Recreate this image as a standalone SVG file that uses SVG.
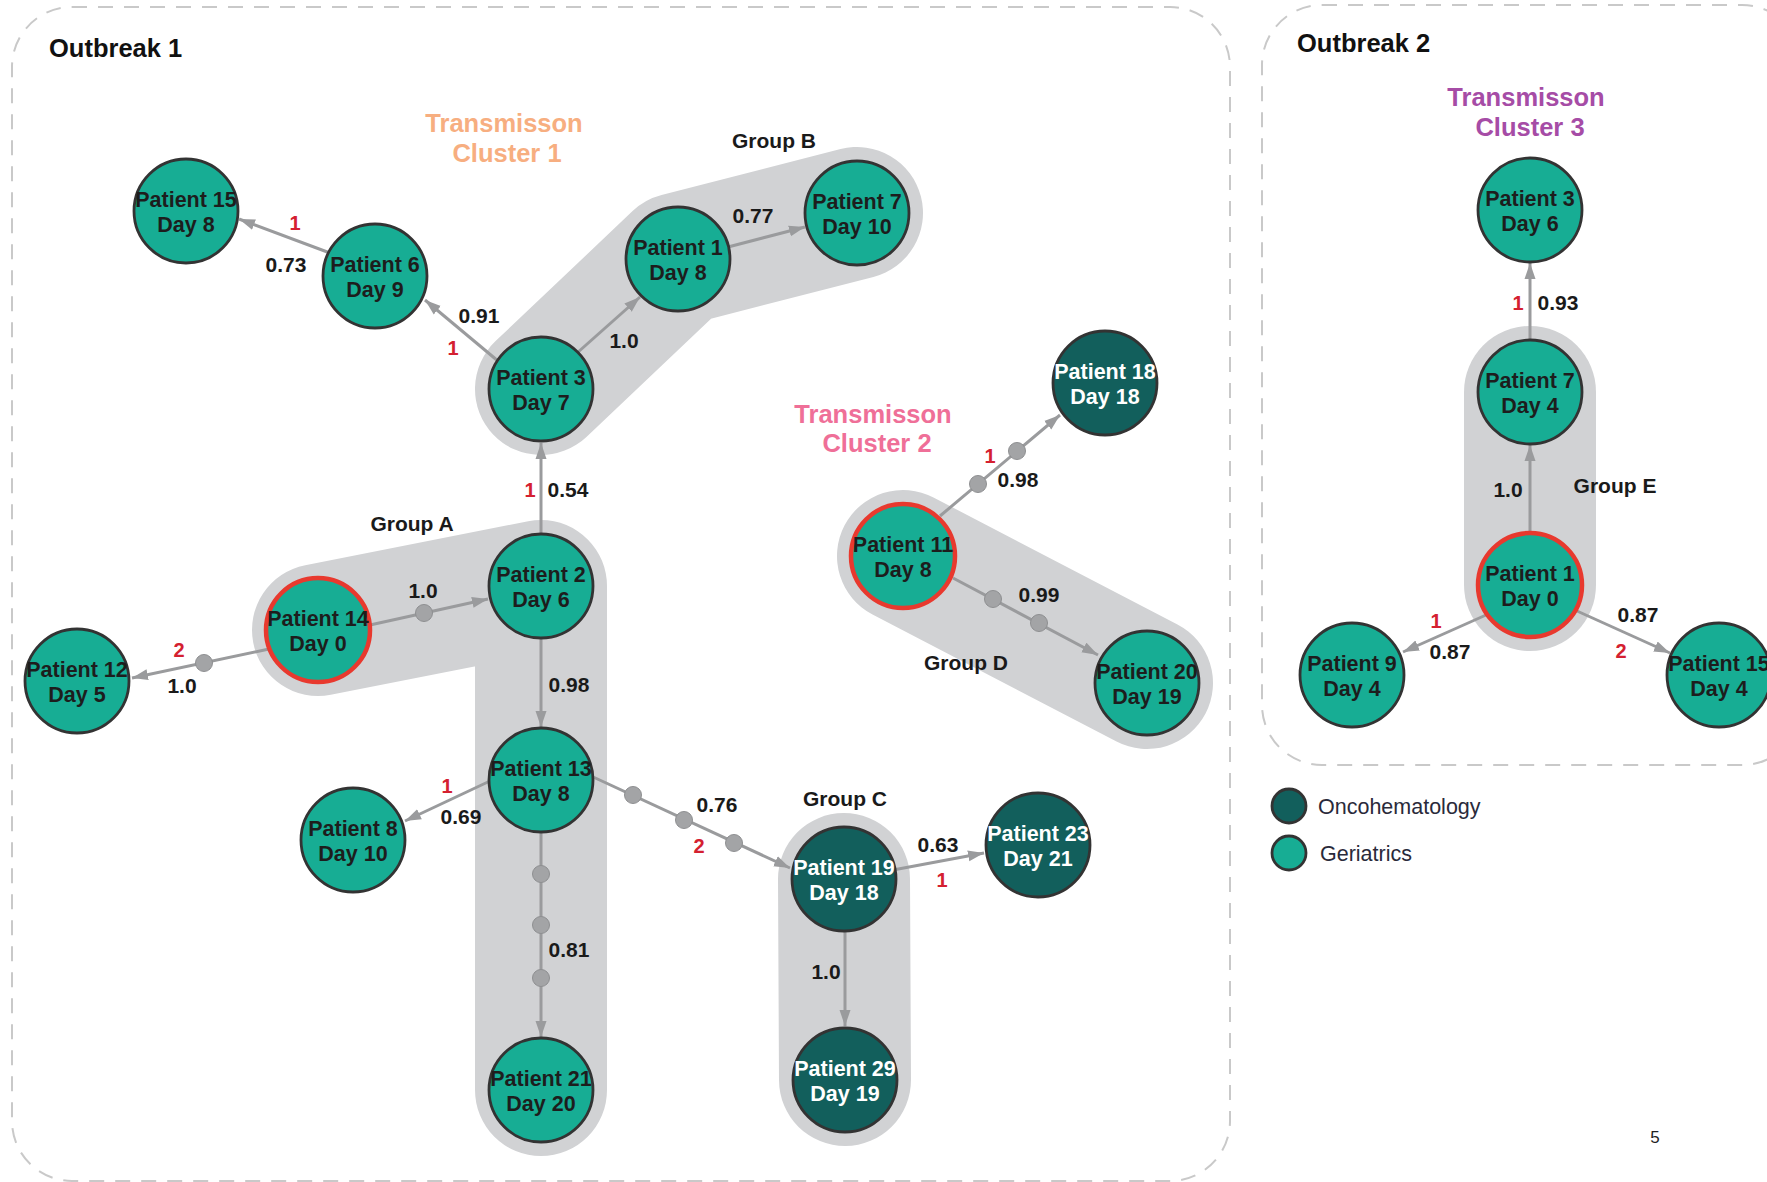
<svg xmlns="http://www.w3.org/2000/svg" width="1767" height="1182" viewBox="0 0 1767 1182">
<style>
text{font-family:"Liberation Sans",Arial,sans-serif}
.box{fill:none;stroke:#c9c9c9;stroke-width:2;stroke-dasharray:15 11}
.grp{fill:none;stroke:#d1d2d4;stroke-width:132;stroke-linecap:round;stroke-linejoin:round}
.edge line{stroke:#9a9b9d;stroke-width:3;marker-end:url(#arr)}
.dot{fill:#a3a4a6;stroke:#8e8f91;stroke-width:1}
.node circle{stroke:#333;stroke-width:2.8}
.ger circle{fill:#17ad94}
.onc circle{fill:#125f5c}
.node.idx circle{stroke:#e8392e;stroke-width:4.5}
.node text{font-size:21.5px;font-weight:bold;text-anchor:middle;fill:#1d1d1d}
.onc text{fill:#fff}
.lbl{font-size:21px;font-weight:bold;text-anchor:middle;fill:#1a1a1a}
.red{font-size:20px;font-weight:bold;text-anchor:middle;fill:#d42030}
.ttl{font-size:25.5px;font-weight:bold;text-anchor:middle}
.ob{font-size:25.5px;font-weight:bold;fill:#111}
.leg{font-size:21.5px;fill:#2a2a3a}
</style>
<defs>
<marker id="arr" viewBox="0 0 16 12" markerWidth="16" markerHeight="12" refX="16" refY="6" orient="auto" markerUnits="userSpaceOnUse">
<path d="M0,0.5 L16,6 L0,11.5 z" fill="#9a9b9d"/>
</marker>
</defs>

<g id="outbreaks">
<rect class="box" x="12" y="7" width="1218" height="1174" rx="60"/>
<rect class="box" x="1262" y="5" width="540" height="760" rx="60"/>
<text class="ob" x="49" y="57">Outbreak 1</text>
<text class="ob" x="1297" y="52">Outbreak 2</text>
</g>

<g id="groups">
<path class="grp" d="M318,630 L541,586 L541,1090"/>
<path class="grp" d="M541,389 L678,259 L857,213"/>
<path class="grp" d="M844,879 L845,1080"/>
<path class="grp" d="M903,556 L1147,683"/>
<path class="grp" d="M1530,392 L1530,585"/>
<text class="lbl" x="412" y="531">Group A</text>
<text class="lbl" x="774" y="148">Group B</text>
<text class="lbl" x="845" y="806">Group C</text>
<text class="lbl" x="966" y="670">Group D</text>
<text class="lbl" x="1615" y="493">Group E</text>
</g>

<g id="clusters">
<text class="ttl" fill="#f7ae80" x="504" y="132">Transmisson</text>
<text class="ttl" fill="#f7ae80" x="507" y="162">Cluster 1</text>
<text class="ttl" fill="#ef6f98" x="873" y="423">Transmisson</text>
<text class="ttl" fill="#ef6f98" x="877" y="452">Cluster 2</text>
<text class="ttl" fill="#a64ca6" x="1526" y="106">Transmisson</text>
<text class="ttl" fill="#a64ca6" x="1530" y="136">Cluster 3</text>
</g>

<g id="connectors" class="edge">
<line x1="330" y1="253" x2="239" y2="219"/>
<line x1="498" y1="361" x2="425" y2="300"/>
<line x1="577" y1="353" x2="640" y2="297"/>
<line x1="728" y1="247" x2="805" y2="227"/>
<line x1="541" y1="536" x2="541" y2="443"/>
<line x1="370" y1="625" x2="488" y2="599"/>
<line x1="269" y1="649" x2="132" y2="678"/>
<line x1="541" y1="636" x2="541" y2="727"/>
<line x1="490" y1="781" x2="405" y2="821"/>
<line x1="541" y1="830" x2="541" y2="1037"/>
<line x1="591" y1="776" x2="790" y2="868"/>
<line x1="893" y1="870" x2="984" y2="853"/>
<line x1="845" y1="929" x2="845" y2="1026"/>
<line x1="940" y1="516" x2="1060" y2="415"/>
<line x1="953" y1="578" x2="1098" y2="655"/>
<line x1="1530" y1="342" x2="1530" y2="263"/>
<line x1="1530" y1="535" x2="1530" y2="445"/>
<line x1="1486" y1="615" x2="1403" y2="652"/>
<line x1="1577" y1="611" x2="1670" y2="653"/>
<circle class="dot" cx="424" cy="613" r="8.5"/>
<circle class="dot" cx="204" cy="663" r="8.5"/>
<circle class="dot" cx="541" cy="874" r="8.5"/>
<circle class="dot" cx="541" cy="925" r="8.5"/>
<circle class="dot" cx="541" cy="978" r="8.5"/>
<circle class="dot" cx="633" cy="795" r="8.5"/>
<circle class="dot" cx="684" cy="820" r="8.5"/>
<circle class="dot" cx="734" cy="843" r="8.5"/>
<circle class="dot" cx="978" cy="484" r="8.5"/>
<circle class="dot" cx="1017" cy="451" r="8.5"/>
<circle class="dot" cx="993" cy="599" r="8.5"/>
<circle class="dot" cx="1039" cy="623" r="8.5"/>
<text class="lbl" x="286" y="272">0.73</text>
<text class="red" x="295" y="230">1</text>
<text class="lbl" x="479" y="323">0.91</text>
<text class="red" x="453" y="355">1</text>
<text class="lbl" x="624" y="348">1.0</text>
<text class="lbl" x="753" y="223">0.77</text>
<text class="red" x="530" y="497">1</text>
<text class="lbl" x="568" y="497">0.54</text>
<text class="lbl" x="423" y="598">1.0</text>
<text class="red" x="179" y="657">2</text>
<text class="lbl" x="182" y="693">1.0</text>
<text class="lbl" x="569" y="692">0.98</text>
<text class="red" x="447" y="793">1</text>
<text class="lbl" x="461" y="824">0.69</text>
<text class="lbl" x="569" y="957">0.81</text>
<text class="lbl" x="717" y="812">0.76</text>
<text class="red" x="699" y="853">2</text>
<text class="lbl" x="938" y="852">0.63</text>
<text class="red" x="942" y="887">1</text>
<text class="lbl" x="826" y="979">1.0</text>
<text class="red" x="990" y="463">1</text>
<text class="lbl" x="1018" y="487">0.98</text>
<text class="lbl" x="1039" y="602">0.99</text>
<text class="red" x="1518" y="310">1</text>
<text class="lbl" x="1558" y="310">0.93</text>
<text class="lbl" x="1508" y="497">1.0</text>
<text class="red" x="1436" y="628">1</text>
<text class="lbl" x="1450" y="659">0.87</text>
<text class="lbl" x="1638" y="622">0.87</text>
<text class="red" x="1621" y="658">2</text>
</g>

<g id="n-o1-p15" class="node ger"><circle cx="186" cy="211" r="52"/><text x="186" y="207">Patient 15</text><text x="186" y="232">Day 8</text></g>
<g id="n-o1-p6" class="node ger"><circle cx="375" cy="276" r="52"/><text x="375" y="272">Patient 6</text><text x="375" y="297">Day 9</text></g>
<g id="n-o1-p3" class="node ger"><circle cx="541" cy="389" r="52"/><text x="541" y="385">Patient 3</text><text x="541" y="410">Day 7</text></g>
<g id="n-o1-p1" class="node ger"><circle cx="678" cy="259" r="52"/><text x="678" y="255">Patient 1</text><text x="678" y="280">Day 8</text></g>
<g id="n-o1-p7" class="node ger"><circle cx="857" cy="213" r="52"/><text x="857" y="209">Patient 7</text><text x="857" y="234">Day 10</text></g>
<g id="n-o1-p2" class="node ger"><circle cx="541" cy="586" r="52"/><text x="541" y="582">Patient 2</text><text x="541" y="607">Day 6</text></g>
<g id="n-o1-p14" class="node ger idx"><circle cx="318" cy="630" r="52"/><text x="318" y="626">Patient 14</text><text x="318" y="651">Day 0</text></g>
<g id="n-o1-p12" class="node ger"><circle cx="77" cy="681" r="52"/><text x="77" y="677">Patient 12</text><text x="77" y="702">Day 5</text></g>
<g id="n-o1-p13" class="node ger"><circle cx="541" cy="780" r="52"/><text x="541" y="776">Patient 13</text><text x="541" y="801">Day 8</text></g>
<g id="n-o1-p8" class="node ger"><circle cx="353" cy="840" r="52"/><text x="353" y="836">Patient 8</text><text x="353" y="861">Day 10</text></g>
<g id="n-o1-p21" class="node ger"><circle cx="541" cy="1090" r="52"/><text x="541" y="1086">Patient 21</text><text x="541" y="1111">Day 20</text></g>
<g id="n-o1-p19" class="node onc"><circle cx="844" cy="879" r="52"/><text x="844" y="875">Patient 19</text><text x="844" y="900">Day 18</text></g>
<g id="n-o1-p29" class="node onc"><circle cx="845" cy="1080" r="52"/><text x="845" y="1076">Patient 29</text><text x="845" y="1101">Day 19</text></g>
<g id="n-o1-p23" class="node onc"><circle cx="1038" cy="845" r="52"/><text x="1038" y="841">Patient 23</text><text x="1038" y="866">Day 21</text></g>
<g id="n-o1-p18" class="node onc"><circle cx="1105" cy="383" r="52"/><text x="1105" y="379">Patient 18</text><text x="1105" y="404">Day 18</text></g>
<g id="n-o1-p11" class="node ger idx"><circle cx="903" cy="556" r="52"/><text x="903" y="552">Patient 11</text><text x="903" y="577">Day 8</text></g>
<g id="n-o1-p20" class="node ger"><circle cx="1147" cy="683" r="52"/><text x="1147" y="679">Patient 20</text><text x="1147" y="704">Day 19</text></g>
<g id="n-o2-p3" class="node ger"><circle cx="1530" cy="210" r="52"/><text x="1530" y="206">Patient 3</text><text x="1530" y="231">Day 6</text></g>
<g id="n-o2-p7" class="node ger"><circle cx="1530" cy="392" r="52"/><text x="1530" y="388">Patient 7</text><text x="1530" y="413">Day 4</text></g>
<g id="n-o2-p1" class="node ger idx"><circle cx="1530" cy="585" r="52"/><text x="1530" y="581">Patient 1</text><text x="1530" y="606">Day 0</text></g>
<g id="n-o2-p9" class="node ger"><circle cx="1352" cy="675" r="52"/><text x="1352" y="671">Patient 9</text><text x="1352" y="696">Day 4</text></g>
<g id="n-o2-p15" class="node ger"><circle cx="1719" cy="675" r="52"/><text x="1719" y="671">Patient 15</text><text x="1719" y="696">Day 4</text></g>

<g id="legend">
<g class="node onc"><circle cx="1289" cy="806" r="17"/></g>
<text class="leg" x="1318" y="814">Oncohematology</text>
<g class="node ger"><circle cx="1289" cy="853" r="17"/></g>
<text class="leg" x="1320" y="861">Geriatrics</text>
<text x="1655" y="1143" font-size="17" text-anchor="middle" fill="#222">5</text>
</g>
</svg>
